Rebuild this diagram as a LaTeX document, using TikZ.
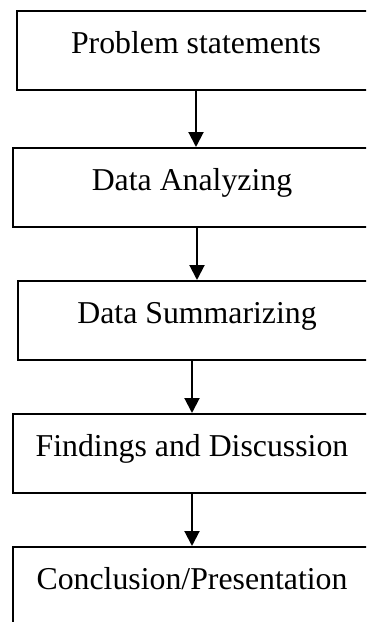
\documentclass[tikz,border=0pt]{standalone}
\usepackage{fontspec}
\setmainfont{Liberation Serif}
\usepackage{tikz}
\usetikzlibrary{arrows.meta}

\begin{document}
\begin{tikzpicture}[x=0.5pt, y=-0.5pt,
  stepbox/.style={draw, line width=1pt, rectangle, inner sep=0pt, anchor=north west,
    minimum width=179pt, text height=21pt, text depth=18.5pt,
    font=\fontsize{15.9}{19}\selectfont},
  flow/.style={-{Triangle[length=7.5pt, width=7.5pt]}, line width=1pt}]
\useasboundingbox (0, 0) rectangle (366, 622);
\clip (0, 0) rectangle (366, 622);
\node [stepbox] (problem) at (16, 10) {Problem statements};
\node [stepbox] (analyzing) at (12, 147) {Data Analyzing};
\node [stepbox] (summarizing) at (17, 280) {Data Summarizing};
\node [stepbox] (findings) at (12, 413) {Findings and Discussion};
\node [stepbox] (conclusion) at (12, 546) {Conclusion/Presentation};
\draw [flow] (problem.south) to (problem.south |- analyzing.north);
\draw [flow] (summarizing.north |- analyzing.south) to (summarizing.north);
\draw [flow] (findings.north |- summarizing.south) to (findings.north);
\draw [flow] (findings.south) to (conclusion.north);
\end{tikzpicture}
\end{document}
